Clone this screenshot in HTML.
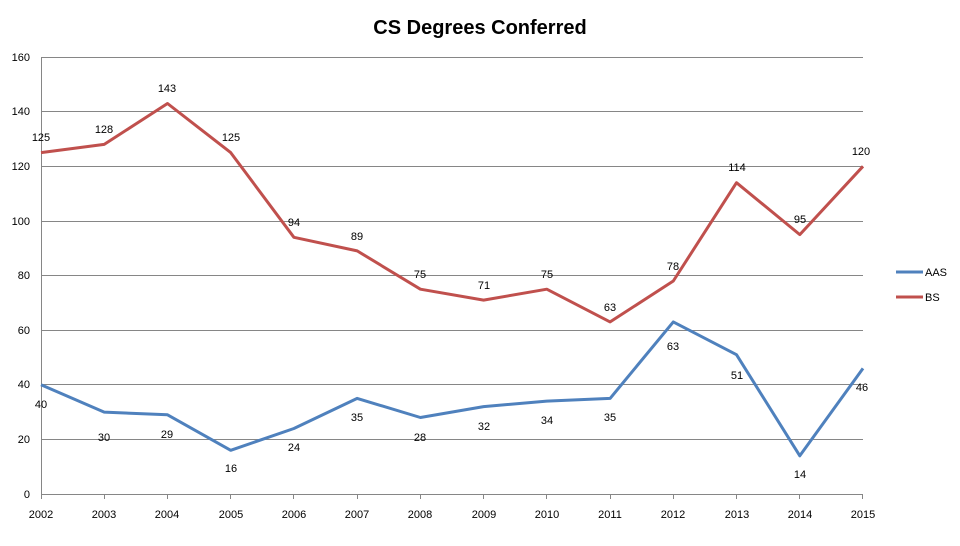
<!DOCTYPE html>
<html><head><meta charset="utf-8"><style>
html,body{margin:0;padding:0;background:#fff}
svg{display:block;font-family:"Liberation Sans",sans-serif}
</style></head><body>
<svg width="960" height="546" viewBox="0 0 960 546" xmlns="http://www.w3.org/2000/svg">
<rect width="960" height="546" fill="#fff"/>
<text x="480" y="34" text-anchor="middle" font-size="20" font-weight="bold" fill="#000">CS Degrees Conferred</text>
<g stroke="#868686" stroke-width="1">
<line x1="41" y1="57.5" x2="863" y2="57.5"/>
<line x1="41" y1="111.5" x2="863" y2="111.5"/>
<line x1="41" y1="166.5" x2="863" y2="166.5"/>
<line x1="41" y1="221.5" x2="863" y2="221.5"/>
<line x1="41" y1="275.5" x2="863" y2="275.5"/>
<line x1="41" y1="330.5" x2="863" y2="330.5"/>
<line x1="41" y1="384.5" x2="863" y2="384.5"/>
<line x1="41" y1="439.5" x2="863" y2="439.5"/>
<line x1="41" y1="494.5" x2="863" y2="494.5"/>
<line x1="41.5" y1="57" x2="41.5" y2="499"/>
</g>
<g stroke="#868686" stroke-width="1">
<line x1="104.5" y1="494" x2="104.5" y2="499"/><line x1="167.5" y1="494" x2="167.5" y2="499"/>
<line x1="230.5" y1="494" x2="230.5" y2="499"/><line x1="293.5" y1="494" x2="293.5" y2="499"/>
<line x1="357.5" y1="494" x2="357.5" y2="499"/><line x1="420.5" y1="494" x2="420.5" y2="499"/>
<line x1="483.5" y1="494" x2="483.5" y2="499"/><line x1="546.5" y1="494" x2="546.5" y2="499"/>
<line x1="610.5" y1="494" x2="610.5" y2="499"/><line x1="673.5" y1="494" x2="673.5" y2="499"/>
<line x1="736.5" y1="494" x2="736.5" y2="499"/><line x1="799.5" y1="494" x2="799.5" y2="499"/>
<line x1="862.5" y1="494" x2="862.5" y2="499"/>
</g>
<g font-size="11" fill="#000" text-anchor="end">
<text x="30" y="61">160</text><text x="30" y="115">140</text><text x="30" y="170">120</text>
<text x="30" y="225">100</text><text x="30" y="279">80</text><text x="30" y="334">60</text>
<text x="30" y="388">40</text><text x="30" y="443">20</text><text x="30" y="498">0</text>
</g>
<g font-size="11" fill="#000" text-anchor="middle">
<text x="41" y="518">2002</text><text x="104" y="518">2003</text><text x="167" y="518">2004</text>
<text x="231" y="518">2005</text><text x="294" y="518">2006</text><text x="357" y="518">2007</text>
<text x="420" y="518">2008</text><text x="484" y="518">2009</text><text x="547" y="518">2010</text>
<text x="610" y="518">2011</text><text x="673" y="518">2012</text><text x="737" y="518">2013</text>
<text x="800" y="518">2014</text><text x="863" y="518">2015</text>
</g>
<polyline fill="none" stroke="#c0504d" stroke-width="3" stroke-linejoin="round" points="41,152.6 104.2,144.4 167.5,103.5 230.7,152.6 293.9,237.3 357.2,250.9 420.4,289.2 483.6,300.1 546.8,289.2 610.1,321.9 673.3,281 736.5,182.7 799.8,234.6 863,166.3"/>
<polyline fill="none" stroke="#4f81bd" stroke-width="3" stroke-linejoin="round" points="41,384.8 104.2,412.1 167.5,414.8 230.7,450.3 293.9,428.5 357.2,398.4 420.4,417.5 483.6,406.6 546.8,401.1 610.1,398.4 673.3,321.9 736.5,354.7 799.8,455.8 863,368.4"/>
<g font-size="11" fill="#000" text-anchor="middle">
<text x="41" y="141">125</text><text x="104" y="133">128</text><text x="167" y="92">143</text>
<text x="231" y="141">125</text><text x="294" y="226">94</text><text x="357" y="240">89</text>
<text x="420" y="278">75</text><text x="484" y="289">71</text><text x="547" y="278">75</text>
<text x="610" y="311">63</text><text x="673" y="270">78</text><text x="737" y="171">114</text>
<text x="800" y="223">95</text><text x="861" y="155">120</text>
<text x="41" y="408">40</text><text x="104" y="441">30</text><text x="167" y="438">29</text>
<text x="231" y="472">16</text><text x="294" y="451">24</text><text x="357" y="421">35</text>
<text x="420" y="441">28</text><text x="484" y="430">32</text><text x="547" y="424">34</text>
<text x="610" y="421">35</text><text x="673" y="350">63</text><text x="737" y="379">51</text>
<text x="800" y="478">14</text><text x="862" y="391">46</text>
</g>
<line x1="896" y1="272" x2="923" y2="272" stroke="#4f81bd" stroke-width="3"/>
<text x="925" y="276" font-size="11">AAS</text>
<line x1="896" y1="297" x2="923" y2="297" stroke="#c0504d" stroke-width="3"/>
<text x="925" y="301" font-size="11">BS</text>
</svg>
</body></html>
